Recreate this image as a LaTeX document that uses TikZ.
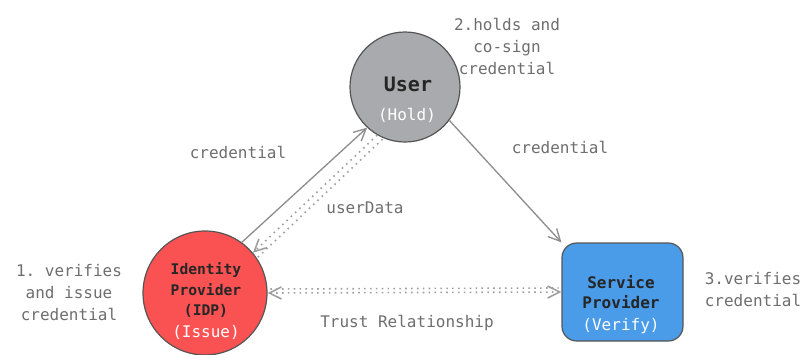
\documentclass[tikz,border=0pt]{standalone}
\usepackage{fontspec}
\setmonofont{DejaVu Sans Mono}
\usetikzlibrary{arrows.meta}
\definecolor{usergray}{HTML}{A8AAAD}
\definecolor{idpred}{HTML}{FA5252}
\definecolor{spblue}{HTML}{4A9BE8}
\definecolor{labelgray}{HTML}{6E6E6E}
\definecolor{edgegray}{HTML}{8E8E8E}
\definecolor{outline}{HTML}{555555}
\tikzset{
  lbl/.style={font=\ttfamily\fontsize{12}{16.5}\selectfont, text=labelgray, align=center, inner sep=0pt},
  sub/.style={font=\ttfamily\fontsize{12}{16}\selectfont, text=white, inner sep=0pt},
  nodetxt/.style={font=\ttfamily\bfseries\fontsize{12}{15.5}\selectfont, text=black!85, align=center, inner sep=0pt},
  barb/.style={-{Straight Barb[length=9pt,width=9pt]}},
  flow/.style={draw=edgegray, line width=1pt, barb},
  dotflow/.style={draw=edgegray!85, line width=1.2pt, dash pattern=on 1.2pt off 3.2pt},
  shapeline/.style={draw=outline, line width=0.9pt}
}
\begin{document}
\begin{tikzpicture}[x=0.75pt,y=-0.75pt]
\useasboundingbox (0,0) rectangle (808,354);
% main shapes
\node[shapeline, circle, fill=usergray, minimum size=82.5pt, inner sep=0pt] (user) at (405,87) {};
\node[shapeline, circle, fill=idpred, minimum size=93pt, inner sep=0pt] (idp) at (205,293) {};
\node[shapeline, rectangle, rounded corners=11pt, fill=spblue, minimum width=90.75pt, minimum height=73.5pt, inner sep=0pt] (sp) at (622.5,292) {};
% texts in shapes
\node[nodetxt, font=\ttfamily\bfseries\fontsize{15}{18}\selectfont] (usert) at (408,84) {User};
\node[sub] (userh) at (407,115) {(Hold)};
\node[nodetxt, font=\ttfamily\bfseries\fontsize{11}{15.2}\selectfont] (idpt) at (206,290) {Identity\\Provider\\(IDP)};
\node[sub] (idpi) at (206,332) {(Issue)};
\node[nodetxt] (spt) at (621,292) {Service\\Provider};
\node[sub] (spv) at (621,326) {(Verify)};
% outside labels
\node[lbl] (l2) at (507,46) {2.holds and\\co-sign\\credential};
\node[lbl] (l1) at (69,293) {1. verifies\\and issue\\credential};
\node[lbl] (l3) at (753,290) {3.verifies\\credential};
\node[lbl] (lc1) at (238,152) {credential};
\node[lbl] (lud) at (365,208) {userData};
\node[lbl] (lc2) at (560,147) {credential};
\node[lbl] (ltr) at (407,323) {Trust Relationship};
% connectors
\draw[flow] (idp.54) -- (user.227);
\draw[dotflow, barb] (user.240) -- (idp.40);
\draw[dotflow] ([xshift=4pt,yshift=-3pt]user.240) -- ([xshift=3.5pt,yshift=-3.5pt]idp.40);
\draw[flow] (user.323) -- (sp.north west);
\draw[dotflow, {Straight Barb[length=9pt,width=9pt]}-{Straight Barb[length=9pt,width=9pt]}] (idp.east) -- (sp.west);
\draw[dotflow] ([xshift=2pt,yshift=3pt]idp.east) -- ([xshift=-2pt,yshift=3pt]sp.west);
\end{tikzpicture}
\end{document}
